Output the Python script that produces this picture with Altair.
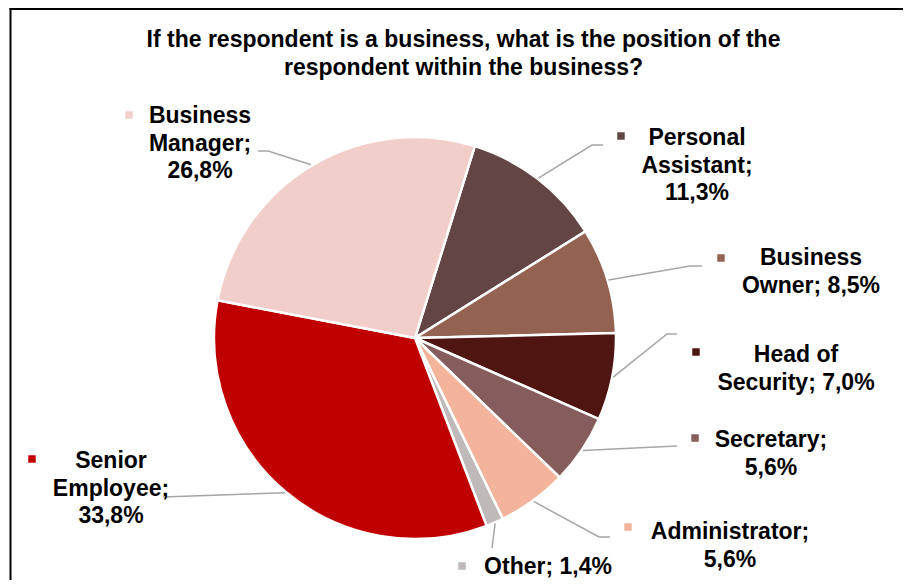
import math
import altair as alt
import pandas as pd

# ---------------- data ----------------
categories = ["Personal Assistant", "Business Owner", "Head of Security", "Secretary",
              "Administrator", "Other", "Senior Employee", "Business Manager"]
values = [11.3, 8.5, 7.0, 5.6, 5.6, 1.4, 33.8, 26.8]
colors = ["#634546", "#946250", "#4E1511", "#855D5C",
          "#F4B49C", "#BFB9B9", "#C00000", "#F2CECA"]
label_names = ["Personal\nAssistant;", "Business\nOwner;", "Head of\nSecurity;", "Secretary;",
               "Administrator;", "Other;", "Senior\nEmployee;", "Business\nManager;"]
pct_sep = ["\n", " ", " ", "\n", "\n", " ", "\n", "\n"]
title_lines = ["If the respondent is a business, what is the position of the",
               "respondent within the business?"]

# ---------------- layout (page pixel coordinates) ----------------
OFF = 8
W, H = 895, 572
CX, CY, R = 415, 338, 201
START_DEG = 17.3
FONT = "Liberation Sans"
FS = 23
LH = 27.5
label_anchor = [(697, 145), (811, 265), (796, 362), (771, 447),
                (730, 539), (548, 574), (111, 468), (200, 123)]
marker_pos = [(621, 136), (721, 258), (696, 352), (695, 438),
              (628, 527), (462, 566), (32, 459), (129, 115)]
leader_bend = [[(592, 145), (603, 145)], [(690, 266), (702, 266)],
               [(667, 334), (677, 334)], [(677, 446)],
               [(599, 537), (610, 537)], [(492, 548)],
               [(163, 497)], [(268, 151), (258, 151)]]

start = math.radians(START_DEG)

pie_df = pd.DataFrame({"cat": categories, "value": values, "idx": range(len(values))})

# label texts
texts = []
for name, v, sep in zip(label_names, values, pct_sep):
    texts.append(name + sep + f"{v:.1f}".replace(".", ",") + "%")
lab_df = pd.DataFrame({
    "cat": categories,
    "txt": texts,
    "tx": [a[0] - OFF for a in label_anchor],
    "ty": [a[1] - OFF for a in label_anchor],
    "mx": [m[0] - OFF for m in marker_pos],
    "my": [m[1] - OFF for m in marker_pos],
})

# leader lines: start on rim at the middle angle of each slice
total = sum(values)
rows = []
cum = 0.0
for i, (c, v) in enumerate(zip(categories, values)):
    mid = start + 2 * math.pi * (cum + v / 2) / total
    cum += v
    rx = CX + (R + 1) * math.sin(mid)
    ry = CY - (R + 1) * math.cos(mid)
    pts = [(rx, ry)] + leader_bend[i]
    for j, (px, py) in enumerate(pts):
        rows.append({"cat": c, "seq": j, "px": px - OFF, "py": py - OFF})
lead_df = pd.DataFrame(rows)

title_df = pd.DataFrame({"t": title_lines, "ty": [47 - OFF, 75 - OFF]})

color_scale = alt.Scale(domain=categories, range=colors)

pie = alt.Chart(pie_df).mark_arc(radius=R, stroke="white", strokeWidth=2.5).encode(
    theta=alt.Theta("value:Q", stack=True,
                    scale=alt.Scale(range=[start, start + 2 * math.pi])),
    color=alt.Color("cat:N", scale=color_scale, legend=None),
    order=alt.Order("idx:Q"),
    x=alt.value(CX - OFF),
    y=alt.value(CY - OFF),
)

leaders = alt.Chart(lead_df).mark_line(color="#A6A6A6", strokeWidth=1.5).encode(
    x=alt.X("px:Q", scale=None, axis=None),
    y=alt.Y("py:Q", scale=None, axis=None),
    detail="cat:N",
    order="seq:Q",
)

labels = alt.Chart(lab_df).mark_text(
    font=FONT, fontSize=FS, fontWeight="bold", color="#000000",
    align="center", baseline="alphabetic", lineBreak="\n", lineHeight=LH,
).encode(
    x=alt.X("tx:Q", scale=None, axis=None),
    y=alt.Y("ty:Q", scale=None, axis=None),
    text="txt:N",
)

markers = alt.Chart(lab_df).mark_square(size=56, opacity=1).encode(
    x=alt.X("mx:Q", scale=None, axis=None),
    y=alt.Y("my:Q", scale=None, axis=None),
    color=alt.Color("cat:N", scale=color_scale, legend=None),
)

title = alt.Chart(title_df).mark_text(
    font=FONT, fontSize=FS, fontWeight="bold", color="#000000",
    align="center", baseline="alphabetic",
).encode(
    x=alt.value(463.5 - OFF),
    y=alt.Y("ty:Q", scale=None, axis=None),
    text="t:N",
)

one = pd.DataFrame({"a": [0]})
frame_left = alt.Chart(one).mark_rule(color="#000000", strokeWidth=2).encode(
    x=alt.value(2.5), y=alt.value(0), y2=alt.value(H))
frame_top = alt.Chart(one).mark_rule(color="#000000", strokeWidth=2).encode(
    x=alt.value(1.5), x2=alt.value(W), y=alt.value(1))

chart = alt.layer(frame_left, frame_top, pie, leaders, markers, labels, title).resolve_scale(
    x="independent", y="independent"
).properties(
    width=W, height=H, padding=0, autosize="none", background="white"
).configure_view(stroke=None)

chart.save("out.html", embed_options={"renderer": "svg", "actions": False})
